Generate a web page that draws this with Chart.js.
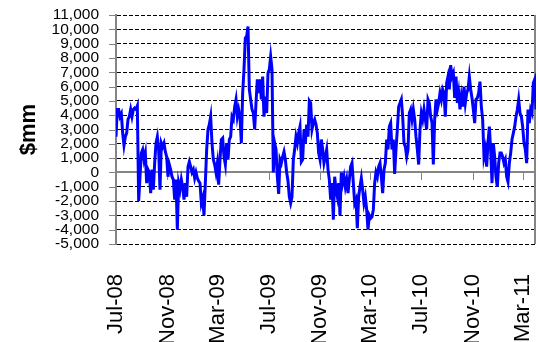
<!DOCTYPE html>
<html lang="en">
<head>
    <meta charset="UTF-8">
    <title>$mm</title>
    <script src="https://cdn.jsdelivr.net/npm/chart.js"></script>
    <style>
        html, body { margin: 0; padding: 0; background: #fff; }
    </style>
</head>
<body>
    <canvas id="myChart" width="538" height="342"></canvas>

    <script>
        // axis range (dates) and tick labels
        const startDate = '2008-07-01';
        const endDate = '2011-04-01';
        const tickDates = ['2008-07-01', '2008-11-01', '2009-03-01', '2009-07-01', '2009-11-01',
                           '2010-03-01', '2010-07-01', '2010-11-01', '2011-03-01'];
        const tickLabels = ['Jul-08', 'Nov-08', 'Mar-09', 'Jul-09', 'Nov-09',
                            'Mar-10', 'Jul-10', 'Nov-10', 'Mar-11'];

        // $mm, evenly spaced readings, split in chunks
        const part1 = [
            2500, 4400, 4400, 3900, 4100, 2750, 1900, 2500, 2750, 3700,
            3900, 4400, 3900, 4400, 4500, 4400, 4650, -2000, -300, 1350,
            1600, 900, 1350, -750, 200, 0, -1450, 200, -1200, 650,
            2050, 2500, 1600, -1200, 2050, 1800, 2050, 1450, 1100, -300,
            550, 200, -300, -500, -1900, -500, -4000, -750, -1200, -500,
            -1000, -1900, -750, -1700, 400, 750, 400, 0, 200, -400
        ];
        const part2 = [
            0, -400, -600, -750, -2150, -1800, -3000, -750, 1600, 3000,
            3350, 3900, 2050, 900, 550, 0, 650, -850, 900, 2300,
            2400, 1100, 550, 2050, 900, 2300, 2500, 3900, 3700, 4600,
            5100, 3900, 4400, 3900, 2050, 5550, 7200, 9400, 9500, 10200,
            5800, 5100, 4400, 4150, 3000, 4850, 6500, 5550, 6500, 5100,
            6700, 3900, 5300, 4150, 6950, 7200, 8100, 7200, 0, 2050,
            1600, -300, -1500
        ];
        const part3 = [
            900, 650, 1100, 1450, 900, 0, -600, -1700, -2150, -1700,
            900, 1600, 2500, 2050, 2750, 3200, 750, 900, 3000, 2050,
            3350, 2500, 5000, 4850, 3000, 3450, 3700, 3350, 2750, 1350,
            900, 2300, 1600, 650, 1100, 1600, 200, -500, -1900, -750,
            -3300, -300, -1200, -1700, -750, -3000, 0, -750, -300, -1000,
            -500, -1450, -500, 400, 650, -750, -2150, -1900, -3900, -1700,
            -1000, -400, -1200
        ];
        const part4 = [
            -2150, -1700, -2600, -4000, -3000, -3200, -3100, -2600, -750, 0,
            -300, 400, 650, -300, -1450, 200, 650, 2300, 1600, 3200,
            3450, 1600, 2300, -100, 1600, 3000, 4600, 4850, 5100, 3900,
            2050, 1800, 1100, 1600, 4150, 4400, 3700, 4400, 3700, 2500,
            1600, 550, 3000, 4150, 3700, 4400, 3700, 3000, 5100, 4850,
            3900, 3450, 550, 3700, 5100, 4400, 4850, 5550, 5100, 5800,
            5550, 3900, 6250
        ];
        const part5 = [
            6700, 5800, 7500, 6700, 6950, 5200, 6700, 4850, 5550, 4400,
            5300, 4600, 6000, 4850, 5550, 5800, 6700, 5800, 5200, 4400,
            3450, 5100, 5200, 5550, 6350, 4600, 3700, 1100, 1600, 400,
            2050, 3200, 1600, -750, 2050, 1100, -300, -1000, 650, 1350,
            1350, 1100, 650, 900, -300, -650, 650, 1350, 2300, 2750,
            3200, 3900, 4400, 5100, 4150, 3900, 3200, 2050, 1600, 650,
            4400, 3450, 4400, 4150, 6250, 6500, 4400
        ];

        const values = [...part1, ...part2, ...part3, ...part4, ...part5];

        const DAY = 864e5;
        const dayOf = s => (Date.parse(s) - Date.parse(startDate)) / DAY;
        const totalDays = dayOf(endDate);
        const tickDays = tickDates.map(dayOf);

        const points = values.map((v, i) => ({ x: i * totalDays / (values.length - 1), y: v }));

        const FONT = "'Liberation Sans', Arial, sans-serif";
        const AXIS_GREY = '#858585';

        const noPad = s => { s.paddingLeft = s.paddingRight = s.paddingTop = s.paddingBottom = 0; };

        // right edge, zero line and tick marks like the spreadsheet
        const framePlugin = {
            id: 'sheetFrame',
            beforeDatasetsDraw(chart) {
                const { ctx, chartArea: a, scales } = chart;
                const y0 = Math.round(scales.y.getPixelForValue(0));
                ctx.save();
                ctx.strokeStyle = AXIS_GREY;
                ctx.lineWidth = 2;
                ctx.beginPath();
                ctx.moveTo(a.right - 1, a.top);
                ctx.lineTo(a.right - 1, a.bottom);
                ctx.moveTo(a.left, y0);
                ctx.lineTo(a.right, y0);
                ctx.stroke();

                ctx.lineWidth = 1;
                ctx.beginPath();
                scales.y.ticks.forEach(t => {
                    const py = Math.round(scales.y.getPixelForValue(t.value)) + 0.5;
                    ctx.moveTo(a.left - 7, py);
                    ctx.lineTo(a.left - 1, py);
                });
                tickDays.forEach(d => {
                    const px = Math.round(scales.x.getPixelForValue(d)) + 0.5;
                    ctx.moveTo(px, y0);
                    ctx.lineTo(px, y0 + 8);
                });
                ctx.stroke();
                ctx.restore();
            }
        };

        new Chart(document.getElementById('myChart'), {
            type: 'line',
            data: {
                datasets: [{
                    data: points,
                    borderColor: '#0000ff',
                    borderWidth: 3,
                    pointRadius: 0
                }]
            },
            options: {
                responsive: false,
                animation: false,
                layout: { padding: { top: 15, right: 2, left: 0, bottom: 0 } },
                plugins: {
                    legend: { display: false },
                    tooltip: { enabled: false }
                },
                scales: {
                    x: {
                        type: 'linear',
                        min: 0,
                        max: totalDays,
                        afterBuildTicks: s => { s.ticks = tickDays.map(v => ({ value: v })); },
                        afterFit: s => { s.height = 98; noPad(s); },
                        ticks: {
                            autoSkip: false,
                            minRotation: 90,
                            maxRotation: 90,
                            padding: 22,
                            color: '#000',
                            font: { family: FONT, size: 22 },
                            callback: (v, i) => tickLabels[i]
                        },
                        grid: { display: false },
                        border: { display: false }
                    },
                    y: {
                        min: -5000,
                        max: 11000,
                        afterFit: s => { s.width = 116; noPad(s); },
                        ticks: {
                            stepSize: 1000,
                            autoSkip: false,
                            padding: 17,
                            color: '#000',
                            font: { family: FONT, size: 15.5 },
                            callback: v => v.toLocaleString('en-US')
                        },
                        grid: { color: '#000', lineWidth: 1, drawTicks: false },
                        border: { color: AXIS_GREY, width: 2, dash: [4, 2] },
                        title: {
                            display: true,
                            text: '$mm',
                            color: '#000',
                            font: { family: FONT, size: 22, weight: 'bold' },
                            padding: { top: 16, bottom: 0 }
                        }
                    }
                }
            },
            plugins: [framePlugin]
        });
    </script>
</body>
</html>
